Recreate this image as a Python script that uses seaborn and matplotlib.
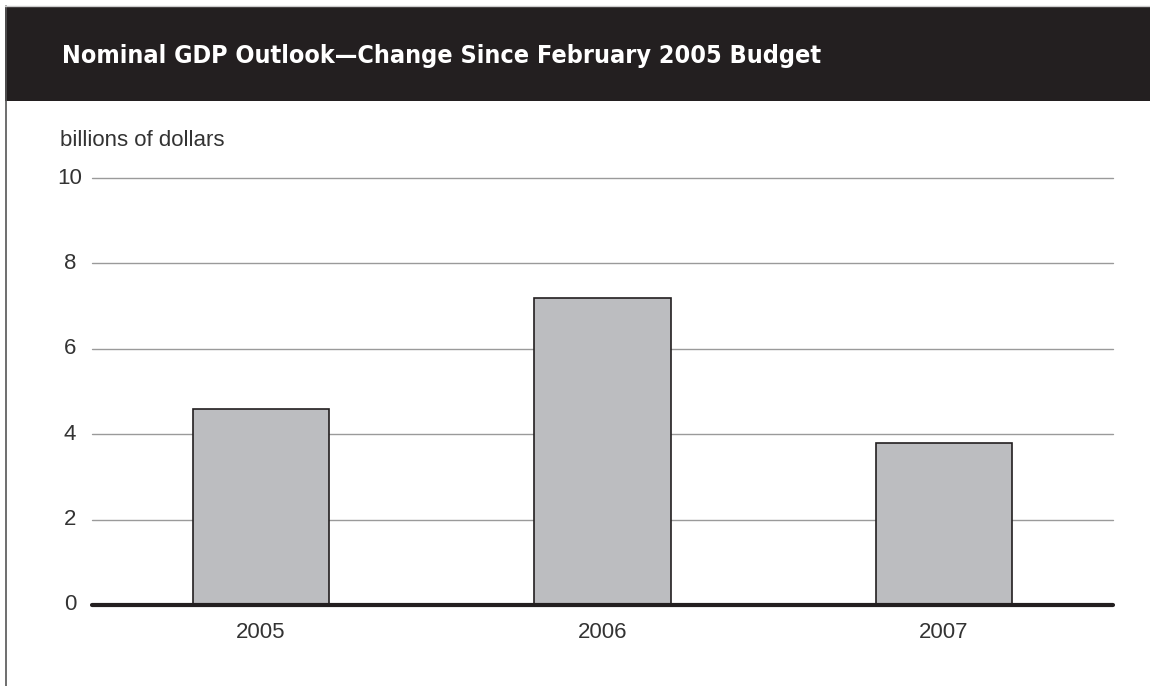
import matplotlib
matplotlib.use("Agg")
import matplotlib.pyplot as plt
import seaborn as sns
import pandas as pd
from matplotlib.patches import Rectangle
from matplotlib.lines import Line2D

years = ["2005", "2006", "2007"]
change = [4.6, 7.2, 3.8]
yticks = [0, 2, 4, 6, 8, 10]

title = "Nominal GDP Outlook\u2014Change Since February 2005 Budget"
unit_label = "billions of dollars"

sns.set_theme(style="white")
plt.rcParams["font.family"] = ["Liberation Sans", "DejaVu Sans"]

W, H = 1150, 686
fig = plt.figure(figsize=(W / 100, H / 100), dpi=100)
fig.patch.set_facecolor("white")

# header band and frame line
fig.add_artist(Rectangle((5 / W, 1 - 101 / H), 1 - 5 / W, 95 / H,
                         transform=fig.transFigure, facecolor="#231f20",
                         edgecolor="none", zorder=0))
fig.add_artist(Line2D([5.5 / W, 5.5 / W], [0, 1 - 6 / H], transform=fig.transFigure,
                      color="#555555", lw=1.2))
fig.add_artist(Line2D([5 / W, 1], [1 - 6 / H, 1 - 6 / H], transform=fig.transFigure,
                      color="#cccccc", lw=1))
fig.text(62 / W, 1 - 56 / H, title, color="white", fontsize=18, fontweight="bold",
         fontstretch="condensed", family=["DejaVu Sans"], va="center", ha="left")

ax = fig.add_axes([92 / W, 1 - 605 / H, (1113 - 92) / W, (605 - 178) / H])
df = pd.DataFrame({"year": years, "value": change})
sns.barplot(data=df, x="year", y="value", ax=ax, color="#bcbdc0", width=0.4,
            edgecolor="#231f20", linewidth=1.2, saturation=1, zorder=3)

ax.set_xlim(-0.495, 2.495)
ax.set_ylim(0, 10)
ax.set_yticks(yticks)
ax.set_yticklabels([])
ax.set_xlabel("")
ax.set_ylabel("")
label_x = -0.495 - 22 / 341.5
for y in yticks[1:]:
    ax.axhline(y, color="#9a9a9a", lw=1, zorder=1, clip_on=False)
for y in yticks:
    ax.text(label_x, y, str(y), ha="center", va="center",
            fontsize=16, color="#333333")
ax.axhline(0, color="#231f20", lw=3, zorder=4, clip_on=False)
for s in ax.spines.values():
    s.set_visible(False)
ax.tick_params(axis="both", length=0)
ax.tick_params(axis="x", pad=12.5, labelsize=16, labelcolor="#333333")
ax.patch.set_alpha(0)

fig.text(60 / W, 1 - 141 / H, unit_label, fontsize=16, color="#333333",
         ha="left", va="center")

fig.savefig("out.png", dpi=100, facecolor="white")
